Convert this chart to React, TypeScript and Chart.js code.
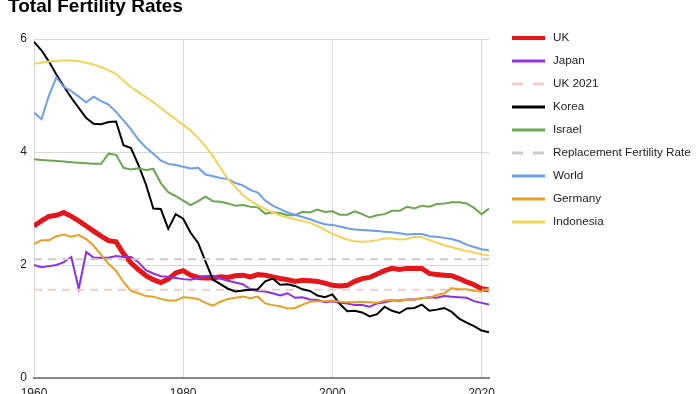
import React, { useEffect, useRef } from "react";
import { Chart, registerables } from "chart.js";

Chart.register(...registerables);

const TITLE = "Total Fertility Rates";

const years = [
  1960, 1961, 1962, 1963, 1964, 1965, 1966, 1967, 1968, 1969,
  1970, 1971, 1972, 1973, 1974, 1975, 1976, 1977, 1978, 1979,
  1980, 1981, 1982, 1983, 1984, 1985, 1986, 1987, 1988, 1989,
  1990, 1991, 1992, 1993, 1994, 1995, 1996, 1997, 1998, 1999,
  2000, 2001, 2002, 2003, 2004, 2005, 2006, 2007, 2008, 2009,
  2010, 2011, 2012, 2013, 2014, 2015, 2016, 2017, 2018, 2019,
  2020, 2021,
];

const xTicks = [1960, 1980, 2000, 2020];
const yTicks = [0, 2, 4, 6];

const uk = [
  2.69, 2.78, 2.86, 2.88, 2.93, 2.86, 2.78, 2.69, 2.6, 2.51,
  2.43, 2.41, 2.2, 2.04, 1.92, 1.81, 1.74, 1.69, 1.75, 1.86,
  1.9, 1.82, 1.78, 1.77, 1.77, 1.79, 1.78, 1.81, 1.82, 1.79,
  1.83, 1.82, 1.79, 1.76, 1.74, 1.71, 1.73, 1.72, 1.71, 1.68,
  1.64, 1.63, 1.64, 1.71, 1.76, 1.78, 1.84, 1.9, 1.94, 1.92,
  1.94, 1.94, 1.94, 1.85, 1.83, 1.82, 1.81, 1.76, 1.7, 1.65,
  1.58, 1.56,
];

const japan = [
  2.0, 1.96, 1.98, 2.0, 2.05, 2.14, 1.58, 2.23, 2.13, 2.13,
  2.13, 2.16, 2.14, 2.14, 2.05, 1.91, 1.85, 1.8, 1.79, 1.77,
  1.75, 1.74, 1.77, 1.8, 1.81, 1.76, 1.72, 1.69, 1.66, 1.57,
  1.54, 1.53, 1.5, 1.46, 1.5, 1.42, 1.43, 1.39, 1.38, 1.34,
  1.36, 1.33, 1.32, 1.29, 1.29, 1.26, 1.32, 1.34, 1.37, 1.37,
  1.39, 1.39, 1.41, 1.43, 1.42, 1.45, 1.44, 1.43, 1.42, 1.36,
  1.33, 1.3,
];

const uk2021 = years.map(() => 1.56);

const korea = [
  5.95, 5.8, 5.6, 5.37, 5.16, 4.96, 4.78, 4.6, 4.5, 4.49,
  4.53, 4.54, 4.12, 4.07, 3.77, 3.43, 3.0, 2.99, 2.64, 2.9,
  2.82, 2.57, 2.39, 2.06, 1.74, 1.66, 1.58, 1.53, 1.55, 1.56,
  1.57, 1.71, 1.76, 1.65, 1.66, 1.63, 1.57, 1.54, 1.46, 1.43,
  1.48, 1.31, 1.18, 1.19, 1.16, 1.09, 1.13, 1.26, 1.19, 1.15,
  1.23, 1.24, 1.3, 1.19, 1.21, 1.24, 1.17, 1.05, 0.98, 0.92,
  0.84, 0.81,
];

const israel = [
  3.87, 3.86, 3.85, 3.84, 3.83, 3.82, 3.81, 3.8, 3.79, 3.79,
  3.97, 3.95, 3.72, 3.69, 3.71, 3.68, 3.7, 3.45, 3.29, 3.22,
  3.14, 3.06, 3.13, 3.21, 3.13, 3.12, 3.09, 3.05, 3.06, 3.03,
  3.02, 2.91, 2.93, 2.92, 2.88, 2.88, 2.94, 2.93, 2.98, 2.94,
  2.95, 2.89, 2.89, 2.95, 2.9, 2.84, 2.88, 2.9, 2.96, 2.96,
  3.03, 3.0, 3.05, 3.03, 3.08, 3.09, 3.11, 3.11, 3.09, 3.01,
  2.9, 3.0,
];

const replacement = years.map(() => 2.1);

const world = [
  4.7, 4.58, 5.0, 5.32, 5.15, 5.08, 4.98, 4.88, 4.98, 4.9,
  4.84, 4.71, 4.56, 4.4, 4.22, 4.08, 3.97, 3.85, 3.79, 3.77,
  3.74, 3.71, 3.72, 3.6, 3.57, 3.54, 3.52, 3.45, 3.41, 3.33,
  3.28, 3.14, 3.05, 2.99, 2.93, 2.89, 2.85, 2.81, 2.76, 2.72,
  2.71, 2.68, 2.65, 2.63, 2.62, 2.61, 2.6, 2.59, 2.58, 2.56,
  2.54, 2.55, 2.55, 2.51, 2.5, 2.48, 2.46, 2.42, 2.36, 2.32,
  2.28, 2.26,
];

const germany = [
  2.37, 2.44, 2.44, 2.51, 2.54, 2.5, 2.53, 2.46, 2.34, 2.18,
  2.02, 1.9, 1.7, 1.54, 1.5, 1.45, 1.44, 1.4, 1.37, 1.37,
  1.43, 1.42, 1.4, 1.33, 1.28, 1.35, 1.4, 1.42, 1.44, 1.41,
  1.44, 1.32, 1.29, 1.27, 1.23, 1.24, 1.3, 1.35, 1.36, 1.36,
  1.37, 1.35, 1.34, 1.34, 1.35, 1.34, 1.33, 1.37, 1.38, 1.36,
  1.39, 1.39, 1.41, 1.42, 1.47, 1.5, 1.59, 1.57, 1.57, 1.54,
  1.53, 1.58,
];

const indonesia = [
  5.56, 5.58, 5.6, 5.61, 5.62, 5.62, 5.61, 5.58, 5.55, 5.5,
  5.45, 5.38, 5.26, 5.15, 5.06, 4.97, 4.88, 4.78, 4.68, 4.58,
  4.48, 4.38, 4.25, 4.1, 3.92, 3.72, 3.52, 3.38, 3.24, 3.14,
  3.06, 2.99, 2.93, 2.88, 2.84, 2.81, 2.78, 2.75, 2.69, 2.62,
  2.55, 2.5, 2.45, 2.42, 2.41, 2.42, 2.44, 2.47, 2.47, 2.45,
  2.46, 2.5, 2.49, 2.44, 2.4, 2.35, 2.32, 2.28, 2.25, 2.22,
  2.19, 2.17,
];

const seriesNames = [
  "UK", "Japan", "UK 2021", "Korea", "Israel",
  "Replacement Fertility Rate", "World", "Germany", "Indonesia",
];
const seriesValues = [uk, japan, uk2021, korea, israel, replacement, world, germany, indonesia];

const styles = [
  { color: "#e3161c", width: 5, dash: [] as number[], legendWidth: 4 },
  { color: "#8f2fe3", width: 2, dash: [], legendWidth: 3 },
  { color: "#f2cccc", width: 2, dash: [8, 6], legendWidth: 3 },
  { color: "#000000", width: 2, dash: [], legendWidth: 3 },
  { color: "#6aa84f", width: 2, dash: [], legendWidth: 3 },
  { color: "#cccccc", width: 2, dash: [8, 6], legendWidth: 3 },
  { color: "#6d9eeb", width: 2, dash: [], legendWidth: 3 },
  { color: "#e6a024", width: 2, dash: [], legendWidth: 3 },
  { color: "#f3d257", width: 2, dash: [], legendWidth: 3 },
];

const overlayPlugin = {
  id: "overlay",
  afterDraw(chart: any) {
    const ctx = chart.ctx as CanvasRenderingContext2D;
    ctx.save();
    ctx.fillStyle = "#000";
    ctx.font = "bold 19px Arial, 'Liberation Sans', sans-serif";
    ctx.textBaseline = "alphabetic";
    ctx.textAlign = "left";
    ctx.fillText(TITLE, 8, 12);

    ctx.font = "11.7px Arial, 'Liberation Sans', sans-serif";
    ctx.textBaseline = "middle";
    seriesNames.forEach((name, i) => {
      const y = 38 + i * 23;
      const st = styles[i];
      ctx.beginPath();
      ctx.strokeStyle = st.color;
      ctx.lineWidth = st.legendWidth;
      ctx.setLineDash(st.dash.length ? [11, 10] : []);
      ctx.moveTo(512, y);
      ctx.lineTo(545, y);
      ctx.stroke();
      ctx.setLineDash([]);
      ctx.fillStyle = "#222";
      ctx.fillText(name, 553, y);
    });
    ctx.restore();
  },
};

export default function App() {
  const ref = useRef<HTMLCanvasElement | null>(null);

  useEffect(() => {
    document.body.style.margin = "0";
    if (!ref.current) return;
    const n = seriesNames.length;
    const chart = new Chart(ref.current, {
      type: "line",
      data: {
        datasets: seriesNames.map((name, i) => ({
          label: name,
          data: seriesValues[i].map((v, j) => ({ x: years[j], y: v })),
          borderColor: styles[i].color,
          backgroundColor: styles[i].color,
          borderWidth: styles[i].width,
          borderDash: styles[i].dash,
          pointRadius: 0,
          tension: 0,
          fill: false,
          order: n - i,
        })),
      },
      options: {
        responsive: false,
        animation: false,
        layout: { padding: { left: 0, right: 211, top: 39, bottom: 0 } },
        plugins: {
          legend: { display: false },
          title: { display: false },
          tooltip: { enabled: false },
        },
        scales: {
          x: {
            type: "linear",
            min: 1960,
            max: 2021,
            afterBuildTicks: (scale: any) => {
              scale.ticks = xTicks.map((v) => ({ value: v }));
            },
            afterFit: (scale: any) => {
              scale.height = 16;
            },
            ticks: {
              font: { family: "Arial", size: 12 },
              color: "#222",
              padding: 8,
              maxRotation: 0,
              callback: (v: any) => String(v),
            },
            grid: { color: "#d9d9d9", lineWidth: 1, drawTicks: false },
            border: { display: true, color: "#888", width: 2 },
          },
          y: {
            min: 0,
            max: 6,
            afterBuildTicks: (scale: any) => {
              scale.ticks = yTicks.map((v) => ({ value: v }));
            },
            afterFit: (scale: any) => {
              scale.width = 34;
            },
            ticks: {
              font: { family: "Arial", size: 12 },
              color: "#222",
              padding: 7,
              callback: (v: any) => String(v),
            },
            grid: {
              color: (c: any) => (c.tick && c.tick.value === 0 ? "rgba(0,0,0,0)" : "#d9d9d9"),
              lineWidth: 1,
              drawTicks: false,
            },
            border: { display: false },
          },
        },
      },
      plugins: [overlayPlugin],
    });
    return () => chart.destroy();
  }, []);

  return (
    <div style={{ position: "absolute", left: 0, top: 0, width: 700, height: 394 }}>
      <canvas ref={ref} width={700} height={394} style={{ width: 700, height: 394, display: "block" }} />
    </div>
  );
}
